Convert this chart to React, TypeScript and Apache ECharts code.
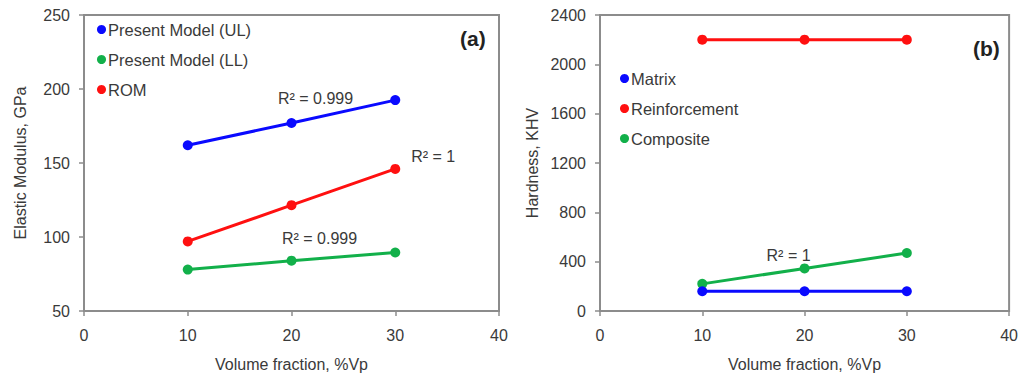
import React, { useEffect, useRef } from "react";
import * as echarts from "echarts";

const xValues = [10, 20, 30];
const ulValues = [162, 177, 192.5];
const llValues = [78, 84, 89.5];
const romValues = [97, 121.5, 146];
const matrixValues = [160, 160, 160];
const reinforcementValues = [2200, 2200, 2200];
const compositeValues = [220, 345, 470];

const legendA = ["Present Model (UL)", "Present Model (LL)", "ROM"];
const legendB = ["Matrix", "Reinforcement", "Composite"];

const FONT = "Liberation Sans, Arial, sans-serif";
const TXT = "#3a3a3a";
const AXC = "#8c8c8c";

function pts(vals: number[], labelIdx?: number, label?: string, offset?: number[]) {
  return vals.map((v, i) => {
    const item: any = { value: [xValues[i], v] };
    if (labelIdx === i && label) {
      item.label = {
        show: true,
        position: "inside",
        formatter: label,
        offset,
        fontFamily: FONT,
        fontSize: 16,
        color: TXT,
      };
    }
    return item;
  });
}

export default function App() {
  const ref = useRef<HTMLDivElement>(null);
  useEffect(() => {
    if (!ref.current) return;
    const chart = echarts.init(ref.current, undefined, { renderer: "svg" });
    const axisCommon = {
      axisLine: { show: true, lineStyle: { color: AXC, width: 2 } },
      axisTick: { show: true, inside: false, length: 5, lineStyle: { color: AXC, width: 1.5 } },
      splitLine: { show: false },
      nameTextStyle: { fontFamily: FONT, fontSize: 16, color: TXT },
    };
    const xAx = (gi: number) => ({
      ...axisCommon,
      type: "value",
      gridIndex: gi,
      min: 0,
      max: 40,
      interval: 10,
      name: "Volume fraction, %Vp",
      nameLocation: "middle",
      nameGap: 45,
      axisLabel: { fontFamily: FONT, fontSize: 16, color: TXT, margin: 16 },
    });
    const line = (name: string, color: string, data: any[], xi: number) => ({
      name,
      type: "line",
      xAxisIndex: xi,
      yAxisIndex: xi,
      data,
      symbol: "circle",
      symbolSize: 10,
      lineStyle: { color, width: 3 },
      itemStyle: { color },
      label: { show: false },
    });
    const legendCommon = {
      orient: "vertical",
      icon: "circle",
      itemWidth: 9,
      itemHeight: 9,
      textStyle: { fontFamily: FONT, fontSize: 16.5, color: TXT, padding: [0, 0, 0, -3] },
      selectedMode: false,
    };
    chart.setOption({
      animation: false,
      backgroundColor: "#ffffff",
      grid: [
        { left: 84, top: 15, width: 415, height: 297, show: true, borderColor: AXC, borderWidth: 2, backgroundColor: "transparent" },
        { left: 600, top: 15, width: 412, height: 297, show: true, borderColor: AXC, borderWidth: 2, backgroundColor: "transparent" },
      ],
      xAxis: [xAx(0), xAx(1)],
      yAxis: [
        {
          ...axisCommon,
          type: "value",
          gridIndex: 0,
          min: 50,
          max: 250,
          interval: 50,
          name: "Elastic Modulus, GPa",
          nameLocation: "middle",
          nameGap: 56,
          axisLabel: { fontFamily: FONT, fontSize: 16, color: TXT, margin: 14 },
        },
        {
          ...axisCommon,
          type: "value",
          gridIndex: 1,
          min: 0,
          max: 2400,
          interval: 400,
          name: "Hardness, KHV",
          nameLocation: "middle",
          nameGap: 60,
          axisLabel: { fontFamily: FONT, fontSize: 16, color: TXT, margin: 14, formatter: (v: number) => String(v) },
        },
      ],
      legend: [
        { ...legendCommon, data: legendA, left: 92, top: 16, itemGap: 13 },
        { ...legendCommon, data: legendB, left: 615, top: 65, itemGap: 13 },
      ],
      graphic: [
        { type: "text", left: 460, top: 28, style: { text: "(a)", font: "bold 21px " + FONT, fill: "#222" } },
        { type: "text", left: 973, top: 38, style: { text: "(b)", font: "bold 21px " + FONT, fill: "#222" } },
      ],
      series: [
        line("Present Model (UL)", "#0a0aff", pts(ulValues, 1, "R² = 0.999", [24, -25]), 0),
        line("Present Model (LL)", "#12b04a", pts(llValues, 1, "R² = 0.999", [28, -22]), 0),
        line("ROM", "#ff1010", pts(romValues, 2, "R² = 1", [38, -12]), 0),
        line("Reinforcement", "#ff1010", pts(reinforcementValues), 1),
        line("Composite", "#12b04a", pts(compositeValues, 1, "R² = 1", [-16, -13]), 1),
        line("Matrix", "#0a0aff", pts(matrixValues), 1),
      ],
    });
    return () => chart.dispose();
  }, []);
  return (
    <div
      ref={ref}
      style={{ position: "fixed", left: 0, top: 0, width: 1021, height: 377, background: "#fff" }}
    />
  );
}
